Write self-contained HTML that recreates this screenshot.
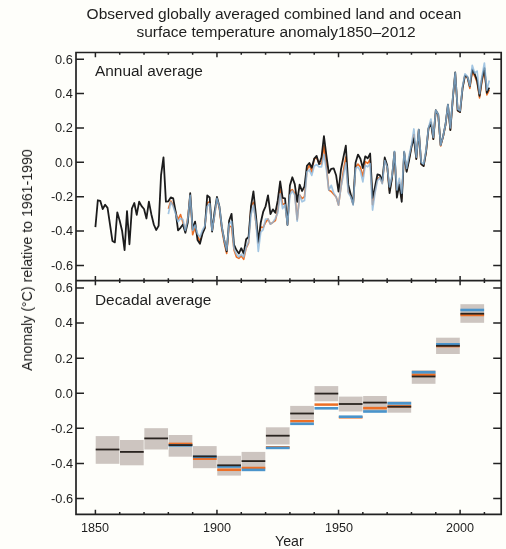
<!DOCTYPE html>
<html><head><meta charset="utf-8"><style>
html,body{margin:0;padding:0;}
div{will-change:transform;}
body{width:506px;height:549px;overflow:hidden;background:#fefefa;position:relative;font-family:"Liberation Sans",sans-serif;color:#1e1e1e;}
svg{position:absolute;left:0;top:0;}
.t{position:absolute;left:-0.7px;width:550px;text-align:center;font-size:15.5px;white-space:nowrap;}
.yl{position:absolute;right:433px;font-size:12.8px;line-height:15px;text-align:right;}
.xl{position:absolute;top:521px;width:40px;text-align:center;font-size:12.6px;line-height:15px;}
.pl{position:absolute;left:95px;font-size:15.4px;white-space:nowrap;}
.ax{position:absolute;font-size:14.2px;white-space:nowrap;}
</style></head><body>
<div class="t" style="top:5px;line-height:18px">Observed globally averaged combined land and ocean</div>
<div class="t" style="top:23px;line-height:18px;margin-left:1.6px">surface temperature anomaly1850–2012</div>
<svg width="506" height="549" viewBox="0 0 506 549">
<rect x="95.70" y="436.10" width="23.71" height="27.70" fill="#cdc5c0"/>
<rect x="120.01" y="440.00" width="23.71" height="25.30" fill="#cdc5c0"/>
<rect x="144.33" y="428.20" width="23.71" height="21.30" fill="#cdc5c0"/>
<rect x="168.64" y="435.00" width="23.71" height="21.70" fill="#cdc5c0"/>
<rect x="192.95" y="446.10" width="23.71" height="22.10" fill="#cdc5c0"/>
<rect x="217.26" y="455.80" width="23.71" height="19.80" fill="#cdc5c0"/>
<rect x="241.58" y="451.90" width="23.71" height="16.60" fill="#cdc5c0"/>
<rect x="265.89" y="427.30" width="23.71" height="17.20" fill="#cdc5c0"/>
<rect x="290.20" y="405.90" width="23.71" height="13.70" fill="#cdc5c0"/>
<rect x="314.52" y="386.10" width="23.71" height="15.20" fill="#cdc5c0"/>
<rect x="338.83" y="396.60" width="23.71" height="14.90" fill="#cdc5c0"/>
<rect x="363.14" y="396.00" width="23.71" height="15.70" fill="#cdc5c0"/>
<rect x="387.46" y="401.30" width="23.71" height="11.40" fill="#cdc5c0"/>
<rect x="411.77" y="370.10" width="23.71" height="13.70" fill="#cdc5c0"/>
<rect x="436.08" y="337.70" width="23.71" height="16.30" fill="#cdc5c0"/>
<rect x="460.40" y="304.20" width="23.71" height="18.60" fill="#cdc5c0"/>
<rect x="95.70" y="448.60" width="23.71" height="1.8" fill="#2a2420"/>
<rect x="120.01" y="451.00" width="23.71" height="1.8" fill="#2a2420"/>
<rect x="144.33" y="437.50" width="23.71" height="1.8" fill="#2a2420"/>
<rect x="168.64" y="442.65" width="23.71" height="2.5" fill="#ec6f26"/>
<rect x="168.64" y="444.10" width="23.71" height="2.6" fill="#4a94cb"/>
<rect x="168.64" y="444.20" width="23.71" height="1.8" fill="#2a2420"/>
<rect x="192.95" y="457.45" width="23.71" height="2.5" fill="#ec6f26"/>
<rect x="192.95" y="455.50" width="23.71" height="2.6" fill="#4a94cb"/>
<rect x="192.95" y="455.50" width="23.71" height="1.8" fill="#2a2420"/>
<rect x="217.26" y="468.55" width="23.71" height="2.5" fill="#ec6f26"/>
<rect x="217.26" y="465.20" width="23.71" height="2.6" fill="#4a94cb"/>
<rect x="217.26" y="464.40" width="23.71" height="1.8" fill="#2a2420"/>
<rect x="241.58" y="466.75" width="23.71" height="2.5" fill="#ec6f26"/>
<rect x="241.58" y="468.60" width="23.71" height="2.6" fill="#4a94cb"/>
<rect x="241.58" y="460.20" width="23.71" height="1.8" fill="#2a2420"/>
<rect x="265.89" y="446.05" width="23.71" height="2.5" fill="#ec6f26"/>
<rect x="265.89" y="446.60" width="23.71" height="2.6" fill="#4a94cb"/>
<rect x="265.89" y="434.80" width="23.71" height="1.8" fill="#2a2420"/>
<rect x="290.20" y="419.95" width="23.71" height="2.5" fill="#ec6f26"/>
<rect x="290.20" y="422.50" width="23.71" height="2.6" fill="#4a94cb"/>
<rect x="290.20" y="412.60" width="23.71" height="1.8" fill="#2a2420"/>
<rect x="314.52" y="403.35" width="23.71" height="2.5" fill="#ec6f26"/>
<rect x="314.52" y="407.00" width="23.71" height="2.6" fill="#4a94cb"/>
<rect x="314.52" y="392.70" width="23.71" height="1.8" fill="#2a2420"/>
<rect x="338.83" y="416.05" width="23.71" height="2.5" fill="#ec6f26"/>
<rect x="338.83" y="415.40" width="23.71" height="2.6" fill="#4a94cb"/>
<rect x="338.83" y="403.10" width="23.71" height="1.8" fill="#2a2420"/>
<rect x="363.14" y="406.85" width="23.71" height="2.5" fill="#ec6f26"/>
<rect x="363.14" y="410.20" width="23.71" height="2.6" fill="#4a94cb"/>
<rect x="363.14" y="401.70" width="23.71" height="1.8" fill="#2a2420"/>
<rect x="387.46" y="405.15" width="23.71" height="2.5" fill="#ec6f26"/>
<rect x="387.46" y="402.00" width="23.71" height="2.6" fill="#4a94cb"/>
<rect x="387.46" y="405.80" width="23.71" height="1.8" fill="#2a2420"/>
<rect x="411.77" y="373.45" width="23.71" height="2.5" fill="#ec6f26"/>
<rect x="411.77" y="371.00" width="23.71" height="2.6" fill="#4a94cb"/>
<rect x="411.77" y="375.60" width="23.71" height="1.8" fill="#2a2420"/>
<rect x="436.08" y="344.85" width="23.71" height="2.5" fill="#ec6f26"/>
<rect x="436.08" y="343.00" width="23.71" height="2.6" fill="#4a94cb"/>
<rect x="436.08" y="344.90" width="23.71" height="1.8" fill="#2a2420"/>
<rect x="460.40" y="313.75" width="23.71" height="2.5" fill="#ec6f26"/>
<rect x="460.40" y="308.70" width="23.71" height="2.6" fill="#4a94cb"/>
<rect x="460.40" y="312.80" width="23.71" height="1.8" fill="#2a2420"/>
<polyline points="168.34,208.69 170.77,200.96 173.20,205.25 175.63,212.12 178.06,219.51 180.50,214.53 182.93,222.43 185.36,231.02 187.79,217.28 190.22,194.94 192.65,234.80 195.08,227.24 197.51,236.17 199.95,241.33 202.38,232.74 204.81,227.58 207.24,203.02 209.67,201.81 212.10,231.02 214.53,215.56 216.96,198.38 219.40,208.69 221.83,229.30 224.26,243.05 226.69,253.53 229.12,225.87 231.55,226.90 233.98,249.92 236.42,256.96 238.85,258.34 241.28,255.93 243.71,259.37 246.14,248.20 248.57,243.05 251.00,206.45 253.43,202.33 255.87,222.43 258.30,243.22 260.73,226.90 263.16,227.58 265.59,222.43 268.02,218.99 270.45,224.15 272.88,222.43 275.32,220.71 277.75,210.40 280.18,189.62 282.61,204.56 285.04,203.53 287.47,224.15 289.90,190.99 292.34,189.62 294.77,193.22 297.20,219.68 299.63,194.94 302.06,198.55 304.49,196.66 306.92,170.55 309.35,165.05 311.79,171.92 314.22,158.86 316.65,158.01 319.08,163.50 321.51,164.02 323.94,145.64 326.37,165.74 328.80,190.13 331.24,191.51 333.67,194.25 336.10,196.83 338.53,205.08 340.96,187.38 343.39,170.89 345.82,157.15 348.26,191.51 350.69,195.80 353.12,204.39 355.55,166.94 357.98,164.02 360.41,166.94 362.84,176.39 365.27,161.70 367.71,163.42 370.14,159.47 372.57,204.82 375.00,190.82 377.43,178.36 379.86,177.25 382.29,183.09 384.72,159.89 387.16,166.85 389.59,190.82 392.02,177.76 394.45,152.51 396.88,194.68 399.31,182.40 401.74,198.29 404.18,152.51 406.61,170.89 409.04,159.12 411.47,146.84 413.90,134.47 416.33,158.95 418.76,130.52 421.19,164.02 423.63,165.91 426.06,151.99 428.49,129.06 430.92,121.76 433.35,139.11 435.78,111.10 438.21,115.14 440.64,145.98 443.08,137.39 445.51,125.36 447.94,105.43 450.37,129.92 452.80,99.16 455.23,73.57 457.66,110.59 460.10,112.22 462.53,88.43 464.96,75.54 467.39,77.52 469.82,88.43 472.25,71.59 474.68,76.06 477.11,82.58 479.55,97.88 481.98,81.04 484.41,70.22 486.84,94.95 489.27,89.80" fill="none" stroke="#ec6f26" stroke-width="1.6" stroke-linejoin="round"/>
<polyline points="95.40,227.07 97.83,200.27 100.26,200.78 102.69,209.03 105.13,204.73 107.56,207.83 109.99,224.32 112.42,240.98 114.85,242.36 117.28,212.29 119.71,220.71 122.14,231.02 124.58,250.09 127.01,211.09 129.44,244.25 131.87,208.69 134.30,203.02 136.73,214.87 139.16,201.64 141.59,206.11 144.03,209.03 146.46,218.48 148.89,201.64 151.32,214.18 153.75,224.32 156.18,229.99 158.61,225.87 161.05,175.19 163.48,157.32 165.91,201.64 168.34,201.30 170.77,197.35 173.20,198.38 175.63,211.61 178.06,230.33 180.50,227.76 182.93,224.49 185.36,232.74 187.79,222.43 190.22,193.22 192.65,229.30 195.08,221.57 197.51,239.95 199.95,243.73 202.38,233.94 204.81,228.27 207.24,195.46 209.67,197.52 212.10,231.54 214.53,212.12 216.96,197.00 219.40,206.45 221.83,226.90 224.26,239.95 226.69,251.46 229.12,220.71 231.55,213.84 233.98,244.59 236.42,250.09 238.85,253.53 241.28,248.20 243.71,253.53 246.14,239.27 248.57,237.03 251.00,206.45 253.43,191.33 255.87,214.53 258.30,241.84 260.73,222.77 263.16,211.95 265.59,206.28 268.02,195.29 270.45,214.18 272.88,209.37 275.32,212.81 277.75,200.44 280.18,181.37 282.61,197.86 285.04,198.38 287.47,225.01 289.90,185.49 292.34,177.25 294.77,184.12 297.20,201.81 299.63,184.63 302.06,190.99 304.49,186.35 306.92,165.74 309.35,162.99 311.79,167.80 314.22,158.69 316.65,155.94 319.08,164.19 321.51,157.32 323.94,136.19 326.37,155.43 328.80,172.95 331.24,168.83 333.67,168.31 336.10,175.19 338.53,191.51 340.96,169.52 343.39,157.32 345.82,145.64 348.26,184.63 350.69,194.25 353.12,203.88 355.55,162.82 357.98,154.57 360.41,158.69 362.84,168.14 365.27,156.29 367.71,158.35 370.14,153.54 372.57,197.86 375.00,186.87 377.43,174.33 379.86,175.19 382.29,180.68 384.72,157.49 387.16,165.22 389.59,193.05 392.02,177.76 394.45,151.99 396.88,197.69 399.31,184.63 401.74,201.81 404.18,151.99 406.61,171.75 409.04,160.58 411.47,146.84 413.90,138.25 416.33,159.04 418.76,129.66 421.19,164.02 423.63,166.08 426.06,151.99 428.49,128.46 430.92,122.79 433.35,139.11 435.78,110.24 438.21,114.37 440.64,145.12 443.08,136.53 445.51,124.50 447.94,104.58 450.37,130.17 452.80,98.73 455.23,72.45 457.66,110.42 460.10,111.96 462.53,88.43 464.96,75.54 467.39,76.92 469.82,86.36 472.25,69.53 474.68,73.99 477.11,80.52 479.55,95.81 481.98,78.98 484.41,68.15 486.84,92.89 489.27,87.74" fill="none" stroke="#1c1c1c" stroke-width="1.8" stroke-linejoin="round"/>
<polyline points="168.34,214.18 170.77,201.99 173.20,206.45 175.63,213.84 178.06,221.74 180.50,218.48 182.93,219.51 185.36,230.33 187.79,218.99 190.22,195.46 192.65,230.33 195.08,225.01 197.51,233.77 199.95,237.03 202.38,230.33 204.81,225.87 207.24,206.45 209.67,203.53 212.10,230.33 214.53,215.56 216.96,198.38 219.40,206.97 221.83,226.90 224.26,240.47 226.69,250.09 229.12,224.15 231.55,221.40 233.98,248.72 236.42,254.21 238.85,256.96 241.28,254.21 243.71,256.96 246.14,247.34 248.57,241.84 251.00,214.53 253.43,205.08 255.87,221.40 258.30,251.46 260.73,232.22 263.16,229.65 265.59,218.99 268.02,218.99 270.45,224.15 272.88,222.43 275.32,218.31 277.75,212.81 280.18,193.74 282.61,208.69 285.04,204.56 287.47,225.01 289.90,195.11 292.34,190.99 294.77,195.11 297.20,221.06 299.63,195.11 302.06,201.81 304.49,200.61 306.92,171.92 309.35,169.86 311.79,175.36 314.22,166.08 316.65,164.71 319.08,166.94 321.51,166.94 323.94,154.57 326.37,169.52 328.80,190.13 331.24,185.32 333.67,192.88 336.10,196.83 338.53,205.08 340.96,187.38 343.39,175.19 345.82,162.82 348.26,192.88 350.69,196.83 353.12,205.08 355.55,168.31 357.98,166.94 360.41,171.06 362.84,181.89 365.27,165.39 367.71,166.77 370.14,163.67 372.57,210.06 375.00,193.05 377.43,180.68 379.86,177.59 382.29,183.78 384.72,160.58 387.16,166.77 389.59,186.87 392.02,176.04 394.45,151.30 396.88,189.96 399.31,178.45 401.74,193.05 404.18,151.30 406.61,168.31 409.04,155.94 411.47,145.12 413.90,128.97 416.33,157.15 418.76,129.66 421.19,162.30 423.63,164.02 426.06,150.27 428.49,127.94 430.92,119.01 433.35,137.39 435.78,110.24 438.21,114.20 440.64,145.12 443.08,136.53 445.51,124.50 447.94,104.58 450.37,127.94 452.80,97.88 455.23,72.96 457.66,109.04 460.10,110.76 462.53,86.71 464.96,73.82 467.39,76.40 469.82,85.85 472.25,65.23 474.68,72.96 477.11,71.07 479.55,93.58 481.98,76.40 484.41,63.00 486.84,90.14 489.27,80.52" fill="none" stroke="#8cb8dc" stroke-width="1.7" stroke-linejoin="round" stroke-opacity="0.8"/>
<path d="M76.0,52.5 H501.2 V514.4 H76.0 Z M76.0,280.6 H501.2" fill="none" stroke="#222" stroke-width="1.7"/>
<path d="M95.40,52.5 v4.7 M95.40,275.90000000000003 v9.4 M95.40,514.4 v-4.7 M119.71,52.5 v2.3 M119.71,278.3 v4.6 M119.71,514.4 v-2.3 M144.03,52.5 v2.3 M144.03,278.3 v4.6 M144.03,514.4 v-2.3 M168.34,52.5 v2.3 M168.34,278.3 v4.6 M168.34,514.4 v-2.3 M192.65,52.5 v2.3 M192.65,278.3 v4.6 M192.65,514.4 v-2.3 M216.96,52.5 v4.7 M216.96,275.90000000000003 v9.4 M216.96,514.4 v-4.7 M241.28,52.5 v2.3 M241.28,278.3 v4.6 M241.28,514.4 v-2.3 M265.59,52.5 v2.3 M265.59,278.3 v4.6 M265.59,514.4 v-2.3 M289.90,52.5 v2.3 M289.90,278.3 v4.6 M289.90,514.4 v-2.3 M314.22,52.5 v2.3 M314.22,278.3 v4.6 M314.22,514.4 v-2.3 M338.53,52.5 v4.7 M338.53,275.90000000000003 v9.4 M338.53,514.4 v-4.7 M362.84,52.5 v2.3 M362.84,278.3 v4.6 M362.84,514.4 v-2.3 M387.16,52.5 v2.3 M387.16,278.3 v4.6 M387.16,514.4 v-2.3 M411.47,52.5 v2.3 M411.47,278.3 v4.6 M411.47,514.4 v-2.3 M435.78,52.5 v2.3 M435.78,278.3 v4.6 M435.78,514.4 v-2.3 M460.10,52.5 v4.7 M460.10,275.90000000000003 v9.4 M460.10,514.4 v-4.7 M484.41,52.5 v2.3 M484.41,278.3 v4.6 M484.41,514.4 v-2.3 M76.0,265.38 h8 M501.2,265.38 h-8 M76.0,498.61 h8 M501.2,498.61 h-8 M76.0,231.02 h8 M501.2,231.02 h-8 M76.0,463.49 h8 M501.2,463.49 h-8 M76.0,196.66 h8 M501.2,196.66 h-8 M76.0,428.37 h8 M501.2,428.37 h-8 M76.0,162.30 h8 M501.2,162.30 h-8 M76.0,393.25 h8 M501.2,393.25 h-8 M76.0,127.94 h8 M501.2,127.94 h-8 M76.0,358.13 h8 M501.2,358.13 h-8 M76.0,93.58 h8 M501.2,93.58 h-8 M76.0,323.01 h8 M501.2,323.01 h-8 M76.0,59.22 h8 M501.2,59.22 h-8 M76.0,287.89 h8 M501.2,287.89 h-8" fill="none" stroke="#222" stroke-width="1.5"/>
</svg>
<div class="pl" style="top:62px;line-height:18px">Annual average</div>
<div class="pl" style="top:291px;line-height:18px">Decadal average</div>
<div class="ax" style="left:275px;top:532px;line-height:18px">Year</div>
<div class="ax" style="left:27px;top:259.5px;transform:translate(-50%,-50%) rotate(-90deg);line-height:18px">Anomaly (°C) relative to 1961-1990</div>
<div class="yl" style="top:257.78px">-0.6</div>
<div class="yl" style="top:491.01px">-0.6</div>
<div class="yl" style="top:223.42px">-0.4</div>
<div class="yl" style="top:455.89px">-0.4</div>
<div class="yl" style="top:189.06px">-0.2</div>
<div class="yl" style="top:420.77px">-0.2</div>
<div class="yl" style="top:154.70px">0.0</div>
<div class="yl" style="top:385.65px">0.0</div>
<div class="yl" style="top:120.34px">0.2</div>
<div class="yl" style="top:350.53px">0.2</div>
<div class="yl" style="top:85.98px">0.4</div>
<div class="yl" style="top:315.41px">0.4</div>
<div class="yl" style="top:51.62px">0.6</div>
<div class="yl" style="top:280.29px">0.6</div>
<div class="xl" style="left:75.40px">1850</div>
<div class="xl" style="left:196.96px">1900</div>
<div class="xl" style="left:318.53px">1950</div>
<div class="xl" style="left:440.10px">2000</div>
</body></html>
